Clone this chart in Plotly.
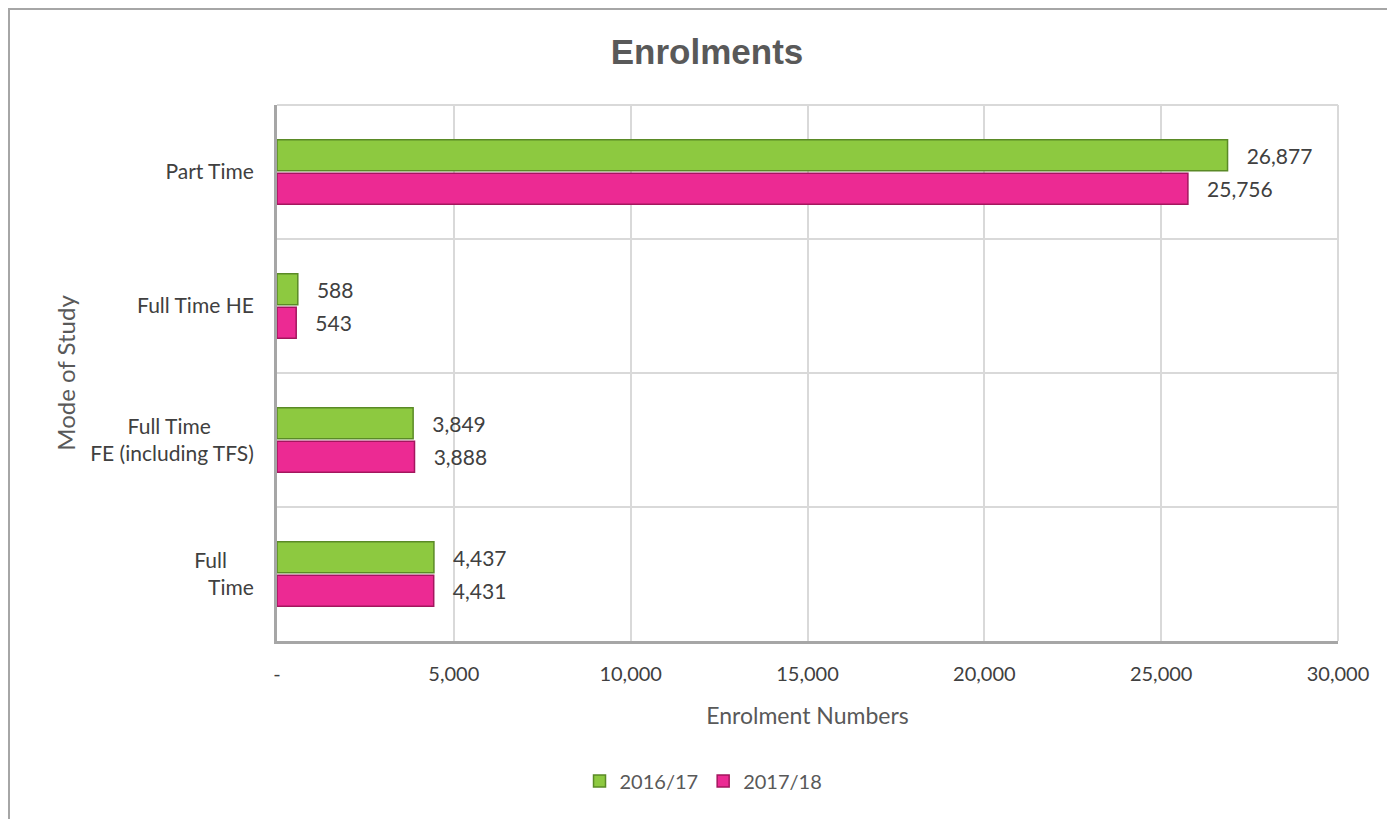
import plotly.graph_objects as go

categories = ["Full&nbsp;&nbsp;&nbsp;&nbsp;&nbsp;<br>Time", "Full Time&nbsp;&nbsp;&nbsp;&nbsp;&nbsp;&nbsp;&nbsp;&nbsp;<br>FE (including TFS)", "Full Time HE", "Part Time"]
values_2016 = [4437, 3849, 588, 26877]
values_2017 = [4431, 3888, 543, 25756]
x_tickvals = [0, 5000, 10000, 15000, 20000, 25000, 30000]
x_ticktext = ["-", "5,000", "10,000", "15,000", "20,000", "25,000", "30,000"]

FONT = "Lato"
TXT = "#404040"
OFF = 8  # page body margin

fig = go.Figure()
fig.add_trace(go.Bar(
    y=categories, x=values_2017, orientation="h", name="2017/18",
    marker=dict(color="#EC2A93", line=dict(color="#A3165E", width=1.5)),
    texttemplate="&nbsp;&nbsp;&nbsp;%{x:,}", textposition="outside",
    textfont=dict(size=21, color=TXT, family=FONT), cliponaxis=False,
))
fig.add_trace(go.Bar(
    y=categories, x=values_2016, orientation="h", name="2016/17",
    marker=dict(color="#8DC940", line=dict(color="#5A8A26", width=1.5)),
    texttemplate="&nbsp;&nbsp;&nbsp;%{x:,}", textposition="outside",
    textfont=dict(size=21, color=TXT, family=FONT), cliponaxis=False,
))

fig.update_layout(
    width=1395, height=819,
    margin=dict(l=277 - OFF, r=57 + OFF, t=105 - OFF, b=178 + OFF),
    paper_bgcolor="white", plot_bgcolor="white",
    font=dict(family=FONT, size=21, color=TXT),
    barmode="group", bargap=0.5, bargroupgap=0.08,
    title=dict(text="<b>Enrolments</b>", x=(707 - OFF) / 1395, xanchor="center",
               y=1 - (52 - OFF) / 819, yanchor="middle",
               font=dict(family="Liberation Sans", size=35, color="#595959")),
    legend=dict(orientation="h", traceorder="reversed", x=0.402, xanchor="center", y=-0.261, yanchor="middle",
                font=dict(size=20, color="#595959", family=FONT)),
)
fig.update_xaxes(
    range=[0, 30000], tickvals=x_tickvals, ticktext=x_ticktext,
    showgrid=True, gridcolor="#D9D9D9", gridwidth=1.5,
    showline=True, linecolor="#A6A6A6", linewidth=3, mirror=False,
    zeroline=False, ticks="", ticklabelstandoff=13,
    tickfont=dict(size=20, color=TXT, family=FONT),
    title=dict(text="Enrolment Numbers", font=dict(size=23, color="#595959", family=FONT), standoff=24),
)
fig.update_yaxes(
    tickson="boundaries", showgrid=True, gridcolor="#D9D9D9", gridwidth=1.5,
    showline=True, linecolor="#A6A6A6", linewidth=3,
    ticks="", ticklabelstandoff=16,
    tickfont=dict(size=21, color=TXT, family=FONT),
    title=dict(text="Mode of Study", font=dict(size=24, color="#595959", family=FONT), standoff=8),
)
# top/right light plot frame
fig.add_shape(type="line", xref="paper", yref="paper", x0=0, x1=1, y0=1, y1=1, line=dict(color="#D9D9D9", width=2))
fig.add_shape(type="line", xref="paper", yref="paper", x0=1, x1=1, y0=0, y1=1, line=dict(color="#D9D9D9", width=2))
# outer chart frame
fig.add_shape(type="rect", xref="paper", yref="paper", x0=-0.2526, x1=1.06, y0=-0.34, y1=1.1791,
              line=dict(color="#A6A6A6", width=2), layer="below")
fig.write_html("out.html")
